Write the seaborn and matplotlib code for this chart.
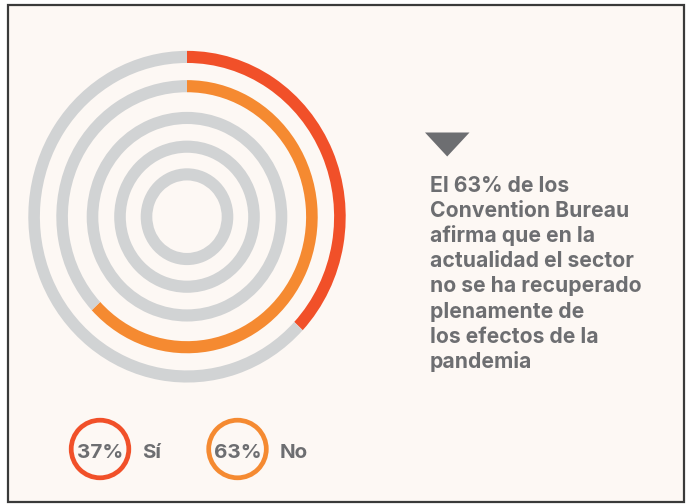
import matplotlib
matplotlib.use("Agg")
import matplotlib.pyplot as plt
from matplotlib.patches import Rectangle, Circle, Polygon
import seaborn as sns

# data
categories = ["Sí", "No"]
values = [37, 63]
ring_colors = ["#F15029", "#F58A31"]
message = [
    "El 63% de los",
    "Convention Bureau",
    "afirma que en la",
    "actualidad el sector",
    "no se ha recuperado",
    "plenamente de",
    "los efectos de la",
    "pandemia",
]

GRAY = "#D1D3D4"
TEXT = "#6D6E71"
BG = "#FDF8F4"

sns.set_theme(style="white")
plt.rcParams["font.family"] = ["Inter", "DejaVu Sans"]

fig = plt.figure(figsize=(6.88, 5.04), dpi=100, facecolor="white")

# background panel in pixel coordinates
bg = fig.add_axes([0, 0, 1, 1], zorder=0)
bg.set_xlim(0, 688)
bg.set_ylim(504, 0)
bg.axis("off")
bg.add_patch(Rectangle((8, 5), 676, 497, facecolor=BG, edgecolor="#3A3A3A", lw=1.6))

# rings (slightly taller than wide, like the original)
ax = fig.add_axes([7 / 688, (287.3 - 180) / 504, 360 / 688, 360 / 504], zorder=1)
ax.patch.set_alpha(0)
radii = [158.7, 130.7, 100.3, 72.8, 46.3]
width = 11.6
for i, r in enumerate(radii):
    if i < len(values):
        ax.pie([values[i], 100 - values[i]], radius=r, startangle=90, counterclock=False,
               colors=[ring_colors[i], GRAY], wedgeprops=dict(width=width, linewidth=0))
    else:
        ax.pie([100], radius=r, colors=[GRAY], wedgeprops=dict(width=width, linewidth=0))
ax.set_aspect("auto")
ax.set_xlim(-180, 180)
ax.set_ylim(-180 / 1.045, 180 / 1.045)
ax.axis("off")

# triangle marker and message
bg.add_patch(Polygon([(425, 132.5), (469.5, 132.5), (447.2, 156.5)], closed=True,
                     facecolor=TEXT, edgecolor="none"))
for i, line in enumerate(message):
    bg.text(430, 191.5 + i * 25.2, line, fontsize=15.2, fontweight="bold", color=TEXT,
            ha="left", va="baseline")

# legend
legend_x = [100, 237.5]
for cx, cat, val, col in zip(legend_x, categories, values, ring_colors):
    bg.add_patch(Circle((cx, 449), 28.8, facecolor="none", edgecolor=col, lw=3.4))
    bg.text(cx, 458.3, f"{val}%", fontsize=14.8, fontweight="bold", color=TEXT,
            ha="center", va="baseline")
    bg.text(cx + 42, 458.3, cat, fontsize=14.8, fontweight="bold", color=TEXT,
            ha="left", va="baseline")

fig.savefig("out.png", dpi=100, facecolor="white")
